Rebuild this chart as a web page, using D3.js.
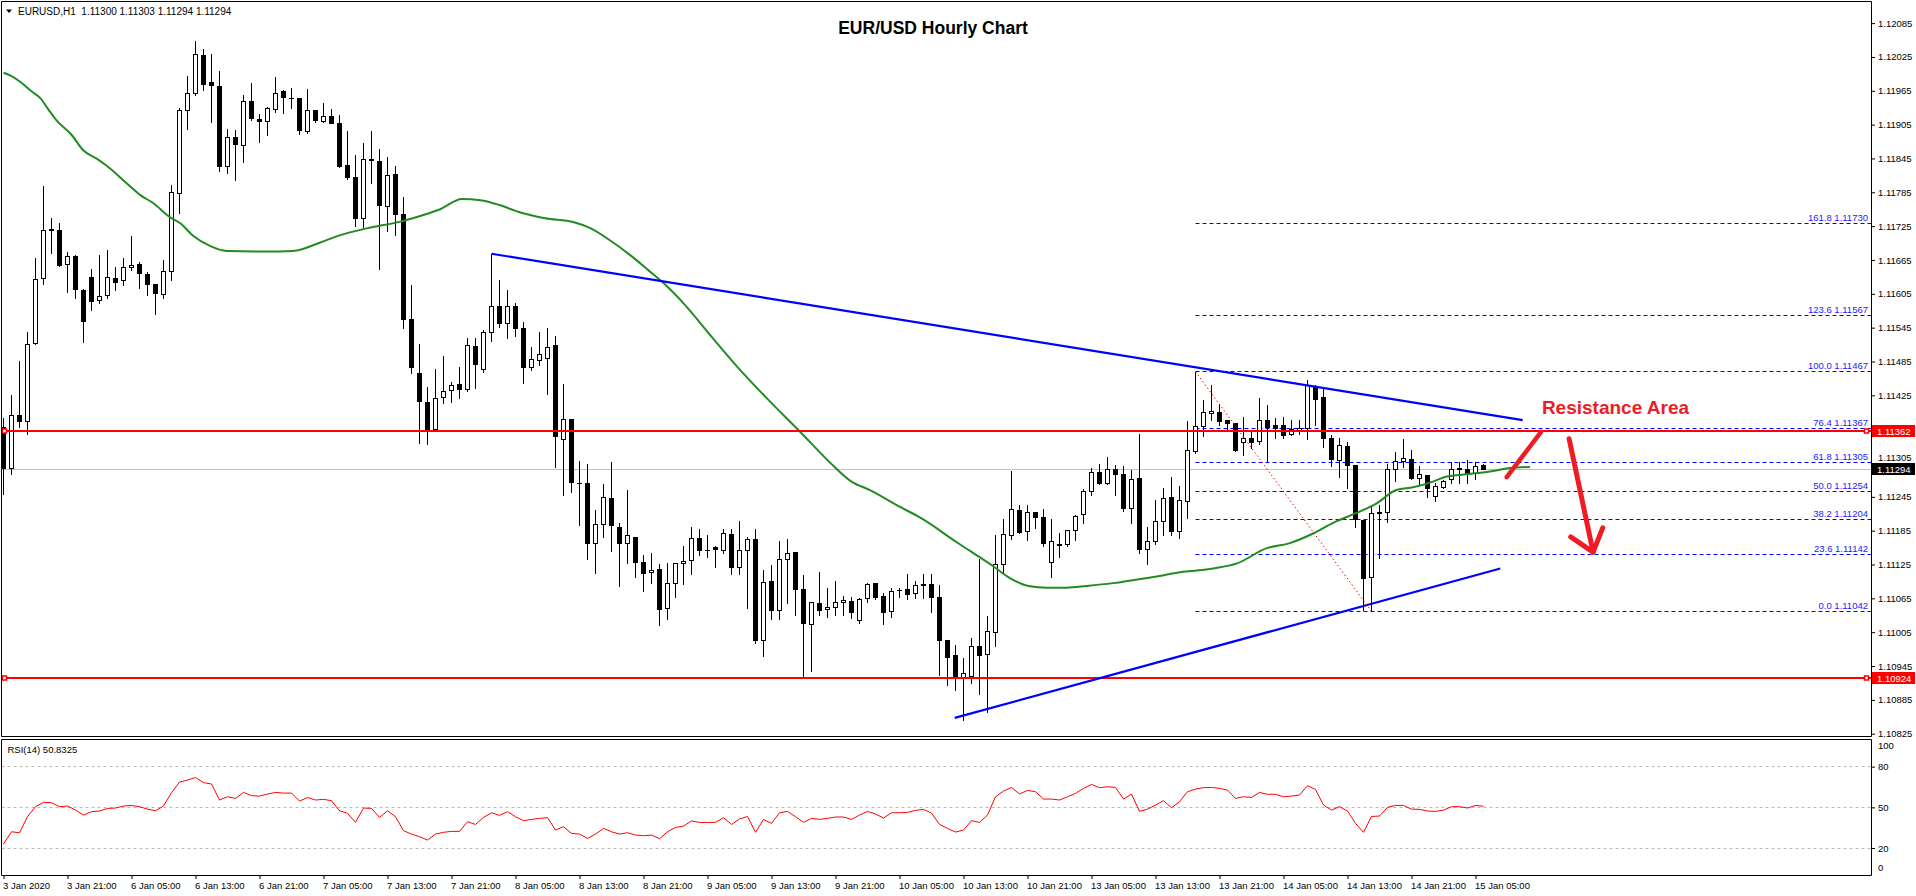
<!DOCTYPE html>
<html><head><meta charset="utf-8">
<script src="https://cdn.jsdelivr.net/npm/d3@7"></script>
<style>
body{margin:0;background:#fff;overflow:hidden}
svg{display:block}
text{font-family:"Liberation Sans",Arial,sans-serif}
</style>
</head><body>
<svg id="chart" width="1916" height="896"></svg>
<script>
// ---------- DATA ----------
const symbolHeader = "EURUSD,H1  1.11300 1.11303 1.11294 1.11294";
const chartTitle = "EUR/USD Hourly Chart";
const timeLabels = ["3 Jan 2020","3 Jan 21:00","6 Jan 05:00","6 Jan 13:00","6 Jan 21:00","7 Jan 05:00","7 Jan 13:00","7 Jan 21:00","8 Jan 05:00","8 Jan 13:00","8 Jan 21:00","9 Jan 05:00","9 Jan 13:00","9 Jan 21:00","10 Jan 05:00","10 Jan 13:00","10 Jan 21:00","13 Jan 05:00","13 Jan 13:00","13 Jan 21:00","14 Jan 05:00","14 Jan 13:00","14 Jan 21:00","15 Jan 05:00"];
const timeLabelBars = [0,8,16,24,32,40,48,56,64,72,80,88,96,104,112,120,128,136,144,152,160,168,176,184];
const priceTicks = [1.12085,1.12025,1.11965,1.11905,1.11845,1.11785,1.11725,1.11665,1.11605,1.11545,1.11485,1.11425,1.11365,1.11305,1.11245,1.11185,1.11125,1.11065,1.11005,1.10945,1.10885,1.10825];
const rsiTicks = [100,80,50,20,0];
const rsiLevels = [80,50,20];

const open = [1.11368,1.11295,1.11389,1.11379,1.11517,1.11632,1.11719,1.11718,1.11657,1.11671,1.11611,1.11634,1.11593,1.11602,1.11632,1.11628,1.11651,1.11657,1.11639,1.11622,
1.11604,1.11645,1.11783,1.11930,1.11960,1.12028,1.11980,1.11973,1.11830,1.11882,1.11868,1.11946,1.11914,1.11911,1.11932,1.11963,1.11952,1.11952,1.11893,1.11930,
1.11911,1.11920,1.11907,1.11832,1.11812,1.11739,1.11844,1.11840,1.11760,1.11817,1.11746,1.11559,1.11464,1.11412,1.11365,1.11421,1.11434,1.11445,1.11436,1.11512,
1.11471,1.11537,1.11583,1.11553,1.11583,1.11544,1.11474,1.11487,1.11490,1.11514,1.11347,1.11382,1.11269,1.11269,1.11162,1.11196,1.11242,1.11191,1.11162,1.11173,
1.11129,1.11111,1.11116,1.11047,1.11092,1.11127,1.11132,1.11171,1.11149,1.11155,1.11149,1.11178,1.11120,1.11149,1.11170,1.10990,1.11095,1.11043,1.11134,1.11147,
1.11081,1.11019,1.11056,1.11045,1.11048,1.11057,1.11060,1.11025,1.11065,1.11092,1.11068,1.11041,1.11079,1.11080,1.11074,1.11089,1.11089,1.11067,1.10991,1.10963,
1.10925,1.10927,1.10980,1.10965,1.11005,1.11125,1.11176,1.11220,1.11184,1.11217,1.11208,1.11129,1.11161,1.11161,1.11186,1.11213,1.11255,1.11288,1.11269,1.11294,
1.11285,1.11224,1.11278,1.11151,1.11165,1.11201,1.11244,1.11183,1.11237,1.11326,1.11369,1.11393,1.11395,1.11380,1.11375,1.11341,1.11349,1.11343,1.11381,1.11371,
1.11371,1.11355,1.11363,1.11366,1.11440,1.11421,1.11349,1.11310,1.11334,1.11300,1.11203,1.11102,1.11217,1.11218,1.11294,1.11308,1.11311,1.11278,1.11282,1.11246,
1.11262,1.11275,1.11294,1.11294,1.11287,1.11300];
const high = [1.11385,1.11426,1.11486,1.11538,1.11669,1.11796,1.11739,1.11730,1.11680,1.11673,1.11613,1.11649,1.11674,1.11683,1.11652,1.11669,1.11707,1.11661,1.11643,1.11623,
1.11665,1.11798,1.11934,1.11992,1.12053,1.12039,1.12030,1.12000,1.11898,1.11896,1.11957,1.11978,1.11923,1.11937,1.11989,1.11966,1.11970,1.11953,1.11968,1.11931,
1.11943,1.11933,1.11922,1.11894,1.11851,1.11872,1.11894,1.11862,1.11848,1.11832,1.11776,1.11621,1.11516,1.11440,1.11472,1.11495,1.11448,1.11475,1.11526,1.11526,
1.11541,1.11676,1.11629,1.11612,1.11589,1.11555,1.11510,1.11538,1.11545,1.11530,1.11445,1.11383,1.11308,1.11304,1.11222,1.11268,1.11306,1.11198,1.11257,1.11174,
1.11141,1.11145,1.11126,1.11127,1.11128,1.11158,1.11191,1.11188,1.11177,1.11157,1.11188,1.11188,1.11202,1.11174,1.11188,1.11115,1.11124,1.11167,1.11170,1.11148,
1.11106,1.11058,1.11111,1.11084,1.11096,1.11070,1.11067,1.11065,1.11093,1.11093,1.11074,1.11083,1.11084,1.11109,1.11095,1.11108,1.11108,1.11089,1.10992,1.10982,
1.10960,1.10994,1.11134,1.11034,1.11177,1.11206,1.11291,1.11230,1.11230,1.11218,1.11223,1.11205,1.11180,1.11186,1.11213,1.11259,1.11297,1.11303,1.11315,1.11301,
1.11300,1.11292,1.11357,1.11192,1.11239,1.11260,1.11280,1.11265,1.11379,1.11467,1.11417,1.11444,1.11410,1.11381,1.11376,1.11386,1.11363,1.11420,1.11408,1.11384,
1.11387,1.11381,1.11382,1.11452,1.11443,1.11437,1.11355,1.11350,1.11343,1.11301,1.11204,1.11228,1.11230,1.11304,1.11324,1.11348,1.11328,1.11300,1.11283,1.11269,
1.11275,1.11306,1.11307,1.11310,1.11307,1.11303];
const low = [1.11250,1.11285,1.11369,1.11356,1.11516,1.11622,1.11677,1.11655,1.11609,1.11597,1.11519,1.11576,1.11589,1.11597,1.11612,1.11621,1.11647,1.11615,1.11603,1.11570,
1.11597,1.11629,1.11749,1.11897,1.11958,1.11966,1.11909,1.11823,1.11819,1.11807,1.11839,1.11913,1.11875,1.11887,1.11927,1.11925,1.11935,1.11889,1.11891,1.11909,
1.11910,1.11907,1.11830,1.11809,1.11725,1.11724,1.11802,1.11649,1.11716,1.11710,1.11545,1.11464,1.11341,1.11338,1.11363,1.11411,1.11414,1.11420,1.11433,1.11438,
1.11467,1.11522,1.11546,1.11527,1.11531,1.11447,1.11470,1.11478,1.11427,1.11298,1.11248,1.11254,1.11195,1.11135,1.11110,1.11173,1.11149,1.11087,1.11128,1.11102,
1.11078,1.11093,1.11017,1.11029,1.11068,1.11090,1.11108,1.11142,1.11139,1.11121,1.11146,1.11109,1.11109,1.11048,1.10986,1.10963,1.11029,1.11029,1.11056,1.11035,
1.10927,1.10937,1.11036,1.11032,1.11035,1.11035,1.11031,1.11022,1.11059,1.11064,1.11020,1.11032,1.11068,1.11063,1.11065,1.11065,1.11040,1.10929,1.10911,1.10902,
1.10850,1.10915,1.10896,1.10864,1.10981,1.11109,1.11171,1.11181,1.11168,1.11189,1.11157,1.11103,1.11139,1.11158,1.11168,1.11199,1.11248,1.11268,1.11268,1.11249,
1.11219,1.11199,1.11145,1.11126,1.11161,1.11177,1.11177,1.11172,1.11207,1.11322,1.11352,1.11381,1.11372,1.11363,1.11327,1.11319,1.11331,1.11339,1.11309,1.11350,
1.11350,1.11355,1.11357,1.11347,1.11372,1.11333,1.11300,1.11280,1.11260,1.11192,1.11045,1.11042,1.11136,1.11200,1.11273,1.11298,1.11277,1.11268,1.11245,1.11238,
1.11260,1.11269,1.11269,1.11269,1.11277,1.11294];
const close = [1.11296,1.11389,1.11378,1.11515,1.11631,1.11718,1.11717,1.11656,1.11671,1.11613,1.11556,1.11591,1.11600,1.11634,1.11625,1.11651,1.11656,1.11641,1.11622,1.11606,
1.11644,1.11784,1.11930,1.11960,1.12030,1.11976,1.11974,1.11830,1.11882,1.11869,1.11946,1.11915,1.11911,1.11934,1.11960,1.11953,1.11952,1.11895,1.11930,1.11912,
1.11920,1.11907,1.11830,1.11811,1.11739,1.11843,1.11842,1.11761,1.11815,1.11746,1.11559,1.11474,1.11414,1.11365,1.11420,1.11432,1.11443,1.11436,1.11514,1.11480,
1.11537,1.11583,1.11553,1.11583,1.11543,1.11474,1.11489,1.11498,1.11509,1.11352,1.11382,1.11271,1.11269,1.11162,1.11196,1.11244,1.11194,1.11162,1.11177,1.11129,
1.11109,1.11115,1.11045,1.11092,1.11127,1.11131,1.11171,1.11149,1.11150,1.11152,1.11180,1.11120,1.11149,1.11170,1.10990,1.11093,1.11043,1.11134,1.11145,1.11081,
1.11021,1.11058,1.11043,1.11049,1.11057,1.11061,1.11040,1.11063,1.11090,1.11066,1.11040,1.11077,1.11079,1.11072,1.11087,1.11088,1.11067,1.10990,1.10961,1.10925,
1.10932,1.10979,1.10963,1.11007,1.11125,1.11178,1.11222,1.11181,1.11217,1.11208,1.11162,1.11165,1.11158,1.11185,1.11211,1.11254,1.11288,1.11269,1.11294,1.11285,
1.11224,1.11276,1.11152,1.11165,1.11201,1.11242,1.11183,1.11238,1.11327,1.11369,1.11395,1.11396,1.11378,1.11375,1.11328,1.11349,1.11341,1.11381,1.11368,1.11366,
1.11353,1.11365,1.11366,1.11443,1.11418,1.11349,1.11312,1.11336,1.11300,1.11204,1.11100,1.11216,1.11216,1.11294,1.11307,1.11313,1.11278,1.11284,1.11260,1.11264,
1.11273,1.11294,1.11295,1.11287,1.11298,1.11294];

const rsi = [23.0,32.0,31.3,43.1,50.5,53.7,53.4,50.5,51.0,48.0,44.3,46.8,47.3,49.2,49.5,51.0,51.4,50.5,48.7,47.5,
51.0,60.8,68.6,70.1,72.0,68.2,67.2,55.4,57.8,56.6,61.0,58.6,58.3,59.8,61.0,60.5,60.5,54.6,57.3,55.4,
55.9,54.9,47.5,45.6,38.9,49.5,49.2,42.6,47.5,43.1,32.8,30.3,28.4,25.9,30.3,31.6,32.3,32.3,39.4,37.4,
42.6,46.0,44.1,46.8,43.1,40.2,41.1,41.9,42.4,33.3,35.7,30.8,30.3,27.1,30.3,34.5,32.0,30.3,31.3,29.6,
29.1,29.6,26.9,32.0,35.2,36.2,40.0,38.9,38.9,38.9,42.4,37.4,41.4,43.3,31.6,41.1,38.2,46.0,47.0,43.1,
38.9,41.9,41.1,41.9,42.9,42.9,41.1,44.3,47.0,45.1,42.1,46.0,46.0,46.3,47.8,48.5,45.8,37.4,34.5,31.8,
33.3,40.2,38.9,44.3,57.8,62.0,64.7,59.8,62.5,61.5,56.1,56.1,55.4,57.8,60.3,64.0,66.9,64.5,65.2,64.7,
56.1,59.8,47.0,48.7,51.7,54.9,49.7,54.2,61.5,63.5,64.5,64.7,64.0,62.7,56.6,57.8,57.3,61.0,59.6,59.6,
57.8,58.3,59.1,65.9,63.2,51.7,48.0,50.5,47.3,38.2,31.6,43.3,43.6,50.0,51.4,51.4,48.7,48.5,47.3,47.0,
48.0,50.5,50.5,49.5,51.4,50.83];
const rsiLabel = "RSI(14) 50.8325";

// moving average (shifted), read at these bar positions
const maBar = [0,1,2,3.5,4.6,5.6,6.6,8.5,10,11.6,12.9,15.4,17.1,18.7,20.8,22.1,23.7,25.8,27.9,32.9,36.2,39.6,42.1,45.4,49.6,52.1,54.6,57.3,59.6,62.1,64.4,67.7,71.3,73.3,75.8,78.3,80.6,82.5,85.2,88.5,91.7,95.4,99.6,103.3,106.0,108.3,112.1,114.6,119.2,123.7,125.8,128.1,130.4,132.9,135.4,138.7,143.7,147.5,151.2,154.2,157.9,160.8,163.7,166.2,169.2,171.6,174.1,176.2,178.7,180.4,182.9,185.8,188.3,190.8];
const maValue = [1.11997,1.11991,1.11982,1.11964,1.11952,1.11932,1.11913,1.11887,1.11859,1.11845,1.11832,1.11801,1.11780,1.11766,1.11741,1.11730,1.11708,1.11690,1.11681,1.11680,1.11681,1.11696,1.11709,1.11721,1.11733,1.11743,1.11755,1.11773,1.11771,1.11762,1.11750,1.11739,1.11732,1.11722,1.11700,1.11674,1.11647,1.11624,1.11585,1.11529,1.11476,1.11420,1.11360,1.11306,1.11272,1.11257,1.11227,1.11208,1.11164,1.11122,1.11101,1.11087,1.11084,1.11084,1.11087,1.11092,1.11103,1.11112,1.11118,1.11127,1.11154,1.11163,1.11180,1.11199,1.11217,1.11233,1.11257,1.11262,1.11272,1.11281,1.11285,1.11290,1.11296,1.11298];

const bidPrice = 1.11294;
const hLinePrices = [1.11362, 1.10924];
const fibRatios = ["161.8","123.6","100.0","76.4","61.8","50.0","38.2","23.6","0.0"];
const fibPrices = [1.11730,1.11567,1.11467,1.11367,1.11305,1.11254,1.11204,1.11142,1.11042];
const fibStartBar = 149;
const fibDiagonal = [[149, 1.11467],[171, 1.11042]];
const upperTrend = [[61, 1.11676],[189.9, 1.11381]];
const lowerTrend = [[118.9, 1.10853],[187.1, 1.11118]];
const noteText = "Resistance Area";
const notePos = [192.3, 1.11404];
const upArrow = [[187.9, 1.11280],[192.2, 1.11360]];
const downShaft = [[195.7, 1.11348],[198.7, 1.11147]];
const downHead = [[195.9, 1.11174],[198.7, 1.11147],[199.9, 1.11190]];

// ---------- LAYOUT ----------
const L = 1.5, R = 1871.5, mainTop = 1.5, mainBottom = 736.5, rsiTop = 739.5, rsiBottom = 875.5;
const svg = d3.select("#chart");
const x = d3.scaleLinear().domain([0,185]).range([3.5,1483.5]);
const y = d3.scaleLinear().domain([1.10825,1.12085]).range([733.7,23.1]);
const yR = d3.scaleLinear().domain([0,100]).range([875.2,739.5]);
const crisp = v => Math.round(v - 0.5) + 0.5;

svg.append("rect").attr("width",1916).attr("height",896).attr("fill","#fff");
const defs = svg.append("defs");
defs.append("clipPath").attr("id","clipMain").append("rect").attr("x",2).attr("y",2).attr("width",R-2.5).attr("height",mainBottom-2.5);
defs.append("clipPath").attr("id","clipRsi").append("rect").attr("x",2).attr("y",rsiTop+0.5).attr("width",R-2.5).attr("height",rsiBottom-rsiTop-1);

const gMain = svg.append("g").attr("clip-path","url(#clipMain)");

// bid line
gMain.append("line").attr("x1",L).attr("x2",R).attr("y1",crisp(y(bidPrice))).attr("y2",crisp(y(bidPrice)))
  .attr("stroke","#c0c0c0").attr("stroke-width",1);

// fib levels
fibPrices.forEach((p,i)=>{
  const yy = crisp(y(p));
  gMain.append("line").attr("x1",x(fibStartBar)).attr("x2",R).attr("y1",yy).attr("y2",yy)
    .attr("stroke","#0000ff").attr("stroke-width",1).attr("stroke-dasharray","4,3");
  gMain.append("text").attr("x",1868).attr("y",yy-3).attr("text-anchor","end")
    .attr("font-size","9.5px").attr("fill","#1a1aff").text(fibRatios[i]+" "+p.toFixed(5));
});

// candles
const gC = gMain.append("g");
open.forEach((o,i)=>{
  const cx = x(i), c = close[i];
  const top = Math.max(o,c), bot = Math.min(o,c);
  const hi = Math.max(high[i], top), lo = Math.min(low[i], bot);
  gC.append("line").attr("x1",cx).attr("x2",cx)
    .attr("y1",Math.round(y(hi))).attr("y2",Math.round(y(lo))+1)
    .attr("stroke","#000").attr("stroke-width",1);
  const yt = crisp(y(top)), yb = crisp(y(bot));
  if (yb - yt < 1) {
    gC.append("line").attr("x1",cx-2.5).attr("x2",cx+2.5).attr("y1",yt).attr("y2",yt)
      .attr("stroke","#000").attr("stroke-width",1);
  } else {
    gC.append("rect").attr("x",cx-2).attr("y",yt).attr("width",4).attr("height",yb-yt)
      .attr("fill", c >= o ? "#fff" : "#000").attr("stroke","#000").attr("stroke-width",1);
  }
});

// moving average
gMain.append("path").datum(maBar.map((b,i)=>[b,maValue[i]]))
  .attr("d", d3.line().x(d=>x(d[0])).y(d=>y(d[1])).curve(d3.curveMonotoneX))
  .attr("fill","none").attr("stroke","#228b22").attr("stroke-width",2);

// horizontal red lines
hLinePrices.forEach(p=>{
  const yy = Math.round(y(p));
  gMain.append("line").attr("x1",L).attr("x2",R).attr("y1",yy).attr("y2",yy)
    .attr("stroke","#ff0000").attr("stroke-width",2);
  [4.5, 1866.5].forEach(hx=>{
    gMain.append("rect").attr("x",hx-2).attr("y",yy-2).attr("width",4).attr("height",4)
      .attr("fill","#fff").attr("stroke","#ff0000").attr("stroke-width",1.5);
  });
});

// trend lines
const seg = d3.line().x(d=>x(d[0])).y(d=>y(d[1]));
[upperTrend, lowerTrend].forEach(t=>{
  gMain.append("path").attr("d",seg(t)).attr("fill","none").attr("stroke","#0000ff").attr("stroke-width",2.2);
});
gMain.append("path").attr("d",seg(fibDiagonal)).attr("fill","none").attr("stroke","#ff0000")
  .attr("stroke-width",1).attr("stroke-dasharray","1.5,2.5");

// annotation
const annRed = "#ee1c25";
gMain.append("path").attr("d",seg(upArrow)).attr("fill","none").attr("stroke",annRed).attr("stroke-width",4.5).attr("stroke-linecap","round");
gMain.append("path").attr("d",seg(downShaft)).attr("fill","none").attr("stroke",annRed).attr("stroke-width",5).attr("stroke-linecap","round");
gMain.append("path").attr("d",seg(downHead)).attr("fill","none").attr("stroke",annRed).attr("stroke-width",5).attr("stroke-linecap","round").attr("stroke-linejoin","round");
gMain.append("text").attr("x",x(notePos[0])).attr("y",y(notePos[1])+7).attr("font-size","19px").attr("font-weight","bold")
  .attr("fill",annRed).text(noteText);

// header & title
svg.append("path").attr("d","M6,9.5 L12,9.5 L9,13 Z").attr("fill","#000");
svg.append("text").attr("x",18).attr("y",14.5).attr("font-size","10px").attr("fill","#000")
  .style("white-space","pre").text(symbolHeader);
svg.append("text").attr("x",933).attr("y",33.5).attr("text-anchor","middle").attr("font-size","17.5px")
  .attr("font-weight","bold").attr("fill","#000").text(chartTitle);

// RSI panel
const gR = svg.append("g").attr("clip-path","url(#clipRsi)");
rsiLevels.forEach(v=>{
  gR.append("line").attr("x1",L).attr("x2",R).attr("y1",crisp(yR(v))).attr("y2",crisp(yR(v)))
    .attr("stroke","#b8b8b8").attr("stroke-width",1).attr("stroke-dasharray","3,3");
});
gR.append("path").datum(rsi).attr("d", d3.line().x((d,i)=>x(i)).y(d=>yR(d)))
  .attr("fill","none").attr("stroke","#ff0000").attr("stroke-width",1);
svg.append("text").attr("x",7.5).attr("y",752.5).attr("font-size","9.5px").attr("fill","#000").text(rsiLabel);

// frames
svg.append("path").attr("d",`M${L},${mainTop}H${R}V${mainBottom}H${L}Z`).attr("fill","none").attr("stroke","#000");
svg.append("path").attr("d",`M${L},${rsiTop}H${R}V${rsiBottom}H${L}Z`).attr("fill","none").attr("stroke","#000");

// price axis
const pa = svg.append("g").attr("transform",`translate(${R-0.5},0)`)
  .call(d3.axisRight(y).tickValues(priceTicks).tickSize(4).tickPadding(3).tickFormat(d=>d.toFixed(5)));
pa.select(".domain").remove();
pa.selectAll("text").attr("font-size","9.5px").attr("font-family","Liberation Sans, Arial, sans-serif").attr("fill","#000");
// labels sitting under the price boxes: hide the fully covered one, lift the partly covered one
const boxPrices = hLinePrices.concat([bidPrice]);
pa.selectAll(".tick").each(function(d){
  const dist = d3.min(boxPrices, b => Math.abs(y(b) - y(d)));
  const t = d3.select(this).select("text");
  if (dist < 4) t.remove();
  else if (dist < 12) t.attr("dy", (y(d) < y(bidPrice) ? -(12 - dist) : (12 - dist)) + 3.2 + "px");
});

// rsi axis
const ra = svg.append("g").attr("transform",`translate(${R-0.5},0)`)
  .call(d3.axisRight(yR).tickValues(rsiTicks).tickSize(4).tickPadding(3));
ra.select(".domain").remove();
ra.selectAll("text").attr("font-size","9.5px").attr("font-family","Liberation Sans, Arial, sans-serif").attr("fill","#000");
ra.selectAll(".tick").filter(d=>d===100).attr("transform",`translate(0,${yR(100)+6.5})`).select("line").remove();
ra.selectAll(".tick").filter(d=>d===0).attr("transform",`translate(0,${yR(0)-7})`).select("line").remove();

// price boxes
function priceBox(p, bg){
  const yy = Math.round(y(p));
  svg.append("rect").attr("x",1872).attr("y",yy-6).attr("width",43).attr("height",12).attr("fill",bg);
  svg.append("text").attr("x",1877).attr("y",yy+3.5).attr("font-size","9.5px").attr("fill","#fff").text(p.toFixed(5));
}
hLinePrices.forEach(p=>priceBox(p,"#ff0000"));
priceBox(bidPrice,"#000");

// time axis
const ta = svg.append("g").attr("transform",`translate(0,${rsiBottom-0.5})`)
  .call(d3.axisBottom(x).tickValues(timeLabelBars).tickSize(4).tickPadding(3).tickFormat((d,i)=>timeLabels[i]));
ta.select(".domain").remove();
ta.selectAll("text").attr("text-anchor","start").attr("dx","-1").attr("font-size","9.5px")
  .attr("font-family","Liberation Sans, Arial, sans-serif").attr("fill","#000");
</script>
</body></html>
